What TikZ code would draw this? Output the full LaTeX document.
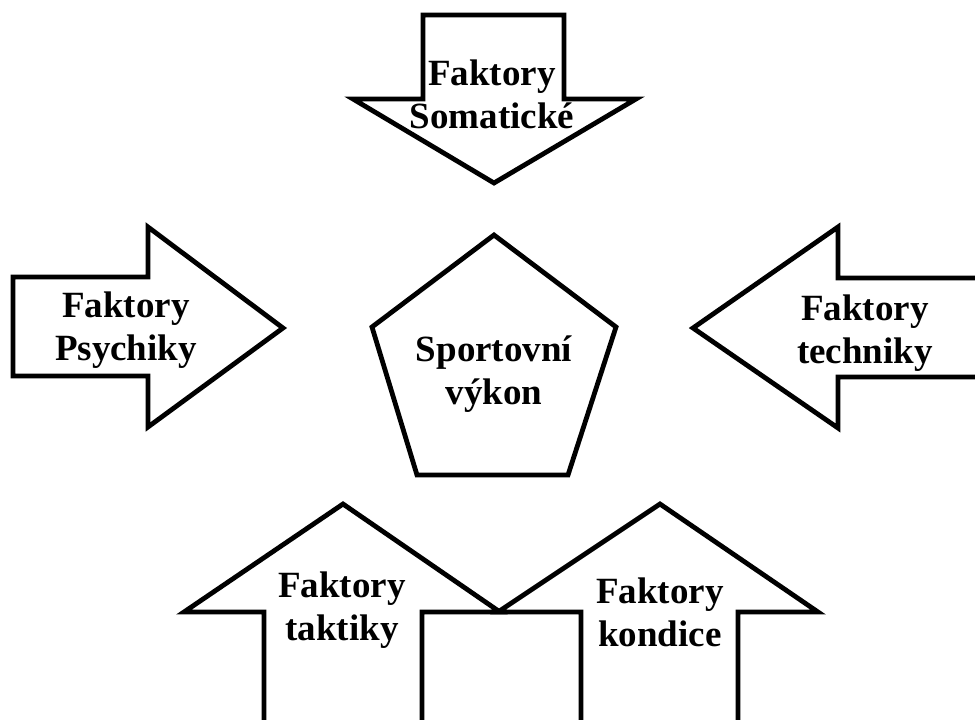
\documentclass[tikz,border=0pt]{standalone}
\usepackage{fontspec}
\setmainfont{Liberation Serif}
\begin{document}
\begin{tikzpicture}[x=1pt, y=-1pt, line width=4.8pt, line join=miter,
  shapeline/.style={draw=black, fill=white},
  factor/.style={align=center, font=\fontsize{37}{43}\selectfont\bfseries, inner sep=0pt}]
  \useasboundingbox (0,0) rectangle (975,720);
  % arrow from the top
  \draw[shapeline] (423,15) -- (564,15) -- (564,99) -- (636,99) -- (494,183)
    -- (353,99) -- (423,99) -- cycle;
  % arrow from the left
  \draw[shapeline] (13,277) -- (148,277) -- (148,227) -- (283,328) -- (148,427)
    -- (148,376) -- (13,376) -- cycle;
  % arrow from the right
  \draw[shapeline] (985,278) -- (838,278) -- (838,227) -- (693,328) -- (838,428)
    -- (838,377) -- (985,377);
  % centre pentagon
  \draw[shapeline] (494,235) -- (616,327) -- (568,475) -- (417,475) -- (372,327) -- cycle;
  % arrows from below
  \draw[shapeline] (264,725) -- (264,612) -- (184,612) -- (343,504) -- (500,612)
    -- (422,612) -- (422,725);
  \draw[shapeline] (581,725) -- (581,612) -- (498,612) -- (660,504) -- (818,612)
    -- (738,612) -- (738,725);
  % labels
  \node[factor] (soma) at (492,94) {Faktory\\Somatické};
  \node[factor] (psych) at (126,330) {Faktory\\Psychiky};
  \node[factor] (tech) at (865,333) {Faktory\\techniky};
  \node[factor] (vykon) at (494,374) {Sportovní\\výkon};
  \node[factor] (takt) at (342,610) {Faktory\\taktiky};
  \node[factor] (kond) at (660,612) {Faktory\\kondice};
\end{tikzpicture}
\end{document}
